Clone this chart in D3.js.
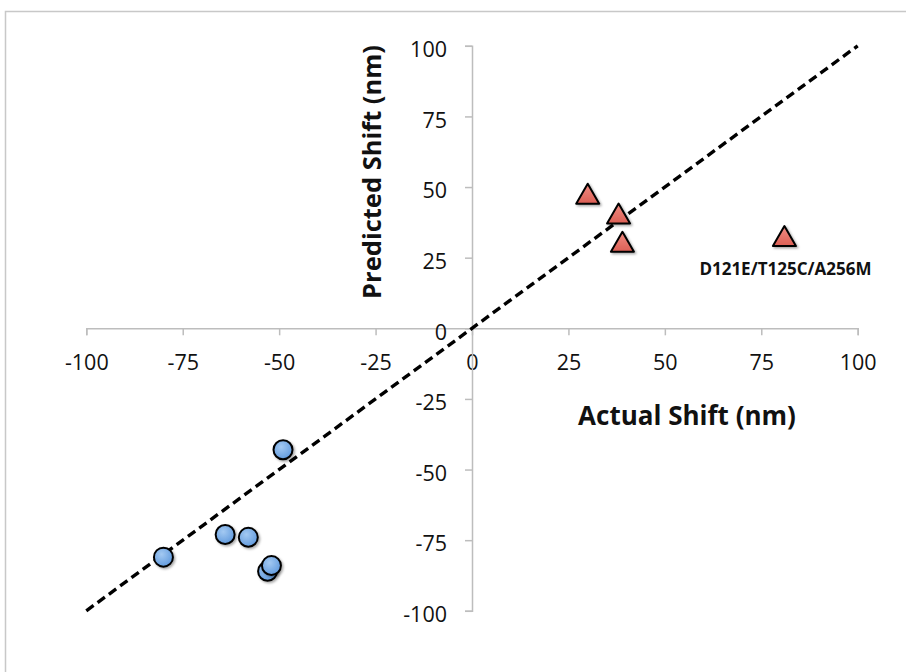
<!DOCTYPE html>
<html>
<head>
<meta charset="utf-8">
<script src="https://cdn.jsdelivr.net/npm/d3@7"></script>
<style>
  html, body { margin: 0; padding: 0; background: #fff; }
  svg { display: block; }
</style>
</head>
<body>
<svg id="chart" width="906" height="672"></svg>
<script>
// Observed vs predicted spectral shifts
const blueShiftActual    = [-49, -80, -64, -58, -53, -52];
const blueShiftPredicted = [-43, -81, -73, -74, -86, -84];
const redShiftActual     = [30, 38, 39, 81];
const redShiftPredicted  = [47, 40, 30, 32];
const redShiftLabels     = ["", "", "", "D121E/T125C/A256M"];
const tickValues = [-100, -75, -50, -25, 0, 25, 50, 75, 100];
const identityLine = [-100, 100];

const svg = d3.select("#chart");
const W = 906, H = 672;
const font = "'Open Sans', 'Liberation Sans', sans-serif";

// chart frame (right and bottom edges fall outside the page)
svg.append("path")
  .attr("d", `M5.5,${H} V11.5 H${W}`)
  .attr("fill", "none").attr("stroke", "#c8c8c8").attr("stroke-width", 1.5);

const x = d3.scaleLinear().domain([-100, 100]).range([86.3, 857.7]);
const y = d3.scaleLinear().domain([-100, 100]).range([610.8, 45.8]);

const defs = svg.append("defs");
const bg = defs.append("radialGradient").attr("id", "blueFill")
  .attr("cx", "40%").attr("cy", "35%").attr("r", "70%");
bg.append("stop").attr("offset", "0%").attr("stop-color", "#a3c9f2");
bg.append("stop").attr("offset", "100%").attr("stop-color", "#5e98dc");
const rg = defs.append("linearGradient").attr("id", "redFill")
  .attr("x1", 0).attr("y1", 0).attr("x2", 0).attr("y2", 1);
rg.append("stop").attr("offset", "0%").attr("stop-color", "#f08c82");
rg.append("stop").attr("offset", "100%").attr("stop-color", "#dc5f55");
const sh = defs.append("filter").attr("id", "shadow")
  .attr("x", "-50%").attr("y", "-50%").attr("width", "200%").attr("height", "200%");
sh.append("feDropShadow").attr("dx", 1.5).attr("dy", 1.5).attr("stdDeviation", 1.2)
  .attr("flood-color", "#000").attr("flood-opacity", 0.35);

// axes crossing at the origin; labels use a plain hyphen for negatives
const fmt = d => String(d);
const xAxis = d3.axisBottom(x).tickValues(tickValues).tickSize(7).tickFormat(fmt);
const yAxis = d3.axisLeft(y).tickValues(tickValues).tickSize(7).tickFormat(fmt);

const gx = svg.append("g").attr("transform", `translate(0,${y(0)})`).call(xAxis);
const gy = svg.append("g").attr("transform", `translate(${x(0)},0)`).call(yAxis);
[gx, gy].forEach(g => {
  g.select(".domain").attr("stroke", "#bdbdbd").attr("stroke-width", 1.5);
  g.selectAll(".tick line").attr("stroke", "#bdbdbd").attr("stroke-width", 1.5);
  g.selectAll(".tick text").attr("fill", "#111").attr("font-family", font)
    .attr("font-size", 21.5);
});
gx.selectAll(".tick text").attr("y", 26).attr("dy", "0.71em");
gy.selectAll(".tick text").attr("x", -25).attr("dy", "0.5em");

// identity line
svg.append("line")
  .attr("x1", x(identityLine[0])).attr("y1", y(identityLine[0]))
  .attr("x2", x(identityLine[1])).attr("y2", y(identityLine[1]))
  .attr("stroke", "#000").attr("stroke-width", 3.4)
  .attr("stroke-dasharray", "9,5");

// blue-shifted variants
const blue = blueShiftActual.map((a, i) => ({ a, p: blueShiftPredicted[i] }));
svg.append("g").selectAll("circle").data(blue).join("circle")
  .attr("cx", d => x(d.a)).attr("cy", d => y(d.p)).attr("r", 9.5)
  .attr("fill", "url(#blueFill)").attr("stroke", "#000").attr("stroke-width", 2)
  .attr("filter", "url(#shadow)");

// red-shifted variants
const red = redShiftActual.map((a, i) => ({ a, p: redShiftPredicted[i], label: redShiftLabels[i] }));
const tri = d3.symbol().type(d3.symbolTriangle).size(230);
svg.append("g").selectAll("path").data(red).join("path")
  .attr("d", tri)
  .attr("transform", d => `translate(${x(d.a)},${y(d.p) + 1.5})`)
  .attr("fill", "url(#redFill)").attr("stroke", "#000").attr("stroke-width", 2)
  .attr("stroke-linejoin", "round")
  .attr("filter", "url(#shadow)");

svg.append("g").selectAll("text").data(red.filter(d => d.label)).join("text")
  .attr("x", d => x(d.a) + 1).attr("y", d => y(d.p) + 37)
  .attr("text-anchor", "middle")
  .attr("font-family", font).attr("font-weight", "bold").attr("font-size", 17)
  .attr("fill", "#111")
  .text(d => d.label);

// axis titles
svg.append("text")
  .attr("x", 687).attr("y", 425)
  .attr("text-anchor", "middle")
  .attr("font-family", font).attr("font-weight", "bold").attr("font-size", 26)
  .attr("fill", "#111").text("Actual Shift (nm)");

svg.append("text")
  .attr("transform", "translate(381,172) rotate(-90)")
  .attr("text-anchor", "middle")
  .attr("font-family", font).attr("font-weight", "bold").attr("font-size", 25.5)
  .attr("fill", "#111").text("Predicted Shift (nm)");
</script>
</body>
</html>
